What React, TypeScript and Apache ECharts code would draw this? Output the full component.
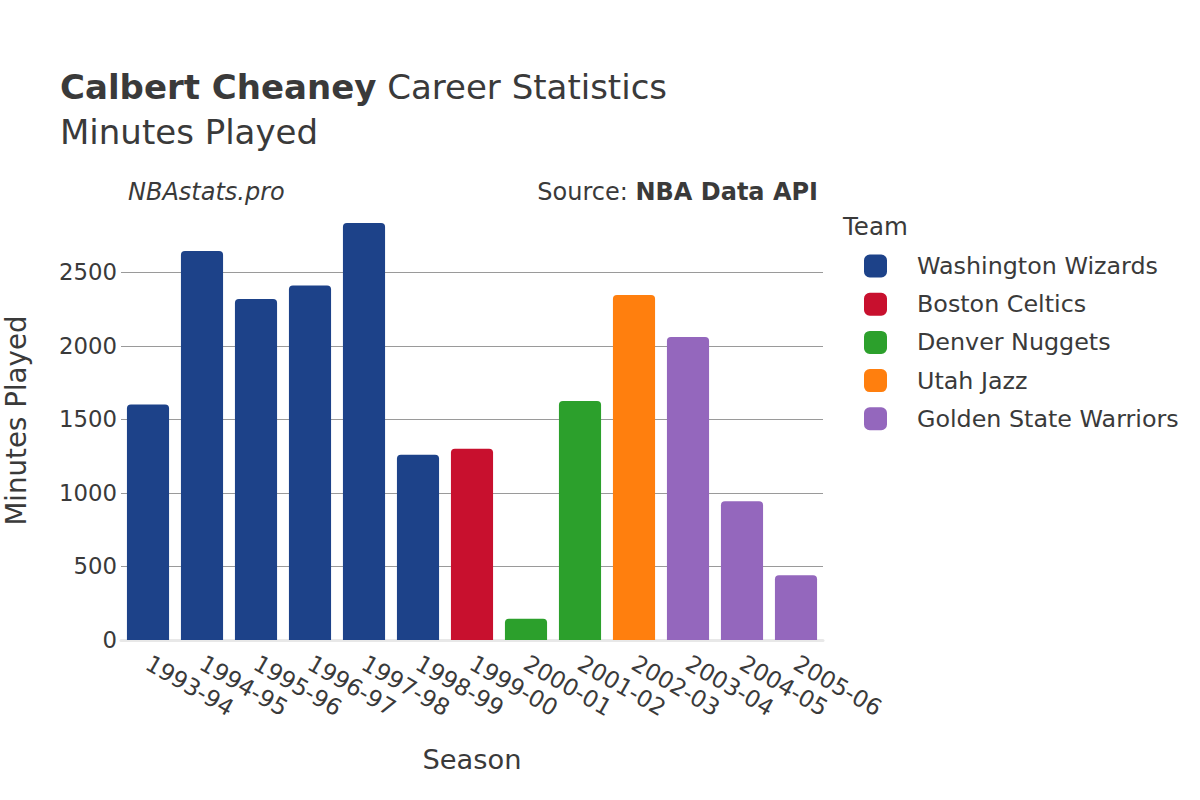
import React, { useEffect, useRef } from "react";
import * as echarts from "echarts";

const seasons = ["1993-94","1994-95","1995-96","1996-97","1997-98","1998-99","1999-00","2000-01","2001-02","2002-03","2003-04","2004-05","2005-06"];
const minutes = [1602, 2645, 2318, 2410, 2835, 1260, 1301, 144, 1625, 2346, 2060, 944, 441];
const seasonTeams = ["Washington Wizards","Washington Wizards","Washington Wizards","Washington Wizards","Washington Wizards","Washington Wizards","Boston Celtics","Denver Nuggets","Denver Nuggets","Utah Jazz","Golden State Warriors","Golden State Warriors","Golden State Warriors"];
const teams = ["Washington Wizards","Boston Celtics","Denver Nuggets","Utah Jazz","Golden State Warriors"];
const teamColors = ["#1d4289","#c8102e","#2ca02c","#ff7f0e","#9467bd"];
const yTicks = [0, 500, 1000, 1500, 2000, 2500];

const FONT = "DejaVu Sans";
const TXT = "#3a3a3a";

export default function App() {
  const ref = useRef<HTMLDivElement>(null);
  useEffect(() => {
    const chart = echarts.init(ref.current!, null, { renderer: "svg" });
    const series = teams.map((t, i) => ({
      name: t,
      type: "bar",
      stack: "all",
      barCategoryGap: "22%",
      itemStyle: { color: teamColors[i], borderRadius: [4, 4, 0, 0] },
      data: minutes.map((m, k) => (seasonTeams[k] === t ? m : null)),
    }));
    chart.setOption({
      animation: false,
      textStyle: { fontFamily: FONT },
      legend: {
        orient: "vertical",
        left: 859,
        top: 249,
        itemWidth: 23,
        itemHeight: 23,
        itemGap: 14.2,
        icon: "roundRect",
        data: teams,
        textStyle: { fontFamily: FONT, fontSize: 23.8, lineHeight: 23, color: TXT, padding: [0, 0, 0, 25] },
      },
      graphic: [
        {
          type: "text",
          x: 60,
          y: 86.5,
          style: {
            text: "{b|Calbert Cheaney} Career Statistics",
            fontFamily: FONT, fontSize: 34, fill: TXT, verticalAlign: "middle",
            rich: { b: { fontFamily: FONT, fontSize: 34, fontWeight: "bold", fill: TXT } },
          },
        },
        {
          type: "text",
          x: 60,
          y: 131.5,
          style: { text: "Minutes Played", fontFamily: FONT, fontSize: 34, fill: TXT, verticalAlign: "middle" },
        },
        {
          type: "text",
          x: 128,
          y: 191.7,
          style: { text: "NBAstats.pro", fontFamily: FONT, fontSize: 24, fontStyle: "italic", fill: TXT, verticalAlign: "middle" },
        },
        {
          type: "text",
          x: 818,
          y: 191.7,
          style: {
            text: "Source: {b|NBA Data API}",
            fontFamily: FONT, fontSize: 24, fill: TXT, align: "right", verticalAlign: "middle",
            rich: { b: { fontFamily: FONT, fontSize: 24, fontWeight: "bold", fill: TXT } },
          },
        },
        {
          type: "text",
          x: 843,
          y: 226.5,
          style: { text: "Team", fontFamily: FONT, fontSize: 24.5, fill: TXT, verticalAlign: "middle" },
        },
      ],
      grid: { left: 121, right: 377, top: 201, bottom: 160, containLabel: false, outerBoundsMode: "none" },
      xAxis: {
        type: "category",
        data: seasons,
        name: "Season",
        nameLocation: "middle",
        nameGap: 106,
        nameTextStyle: { fontFamily: FONT, fontSize: 27.3, color: TXT },
        axisTick: { show: false },
        axisLine: { show: true, lineStyle: { color: "#e8e8e8", width: 3 } },
        axisLabel: { interval: 0, hideOverlap: false, rotate: -30, fontFamily: FONT, fontSize: 23.2, color: TXT, margin: 21, align: "left", verticalAlign: "middle" },
      },
      yAxis: {
        type: "value",
        min: 0,
        max: 2985,
        interval: 500,
        name: "Minutes Played",
        nameLocation: "middle",
        nameGap: 91,
        nameTextStyle: { fontFamily: FONT, fontSize: 27.7, color: TXT },
        axisLine: { show: false },
        axisTick: { show: false },
        splitLine: { showMaxLine: false, lineStyle: { color: "#9a9a9a", width: 1 } },
        axisLabel: {
          fontFamily: FONT, fontSize: 22.8, color: TXT, margin: 4,
          showMaxLabel: false,
          formatter: (v: number) => (yTicks.includes(v) ? String(v) : ""),
        },
      },
      series,
    });
    return () => chart.dispose();
  }, []);
  return <div ref={ref} style={{ width: 1200, height: 800, position: "absolute", left: 0, top: 0 }} />;
}
